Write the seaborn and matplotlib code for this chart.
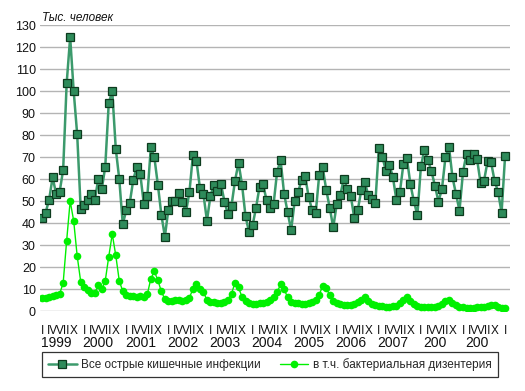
import numpy as np
import pandas as pd
import matplotlib
matplotlib.use("Agg")
import matplotlib.pyplot as plt
import seaborn as sns
from matplotlib.lines import Line2D
from matplotlib.transforms import blended_transform_factory

# monthly data, Jan 1999 .. Jan 2010 (thousand people)
all_infections = [
    # 1999
    42.4, 44.7, 50.6, 60.8, 53.2, 54.2, 64.1, 103.5, 124.4, 100.0, 80.3, 46.5,
    # 2000
    48.3, 50.3, 53.0, 50.3, 59.8, 55.3, 65.5, 94.5, 100.0, 73.8, 59.9, 39.4,
    # 2001
    45.9, 49.2, 59.7, 65.5, 62.1, 48.6, 52.1, 74.4, 69.9, 57.4, 43.8, 33.8,
    # 2002
    46.1, 50.0, 49.9, 53.5, 49.5, 44.9, 54.0, 70.9, 68.4, 55.8, 53.0, 41.0,
    # 2003
    52.4, 57.4, 54.5, 57.6, 49.7, 43.9, 47.9, 59.2, 67.4, 57.4, 43.0, 35.9,
    # 2004
    38.9, 47.0, 56.5, 57.6, 50.3, 47.0, 48.6, 63.3, 68.5, 53.2, 44.9, 36.7,
    # 2005
    49.8, 54.2, 59.5, 61.2, 51.8, 45.8, 44.4, 61.8, 65.3, 55.1, 47.0, 38.0,
    # 2006
    48.5, 52.6, 60.0, 55.6, 52.4, 42.3, 45.8, 55.0, 58.6, 52.6, 51.0, 49.0,
    # 2007
    73.9, 70.2, 63.8, 66.5, 61.0, 50.6, 53.9, 66.7, 69.5, 57.7, 49.8, 43.6,
    # 2008
    65.8, 73.2, 68.6, 63.5, 57.0, 49.7, 55.5, 69.9, 74.7, 60.8, 53.3, 45.6,
    # 2009
    63.2, 71.5, 68.6, 71.2, 69.1, 58.3, 59.2, 68.0, 67.6, 59.2, 54.2, 44.7,
    # 2010
    70.5,
]

dysentery = [
    # 1999
    6.1, 6.1, 6.3, 6.7, 7.3, 7.8, 12.7, 32.0, 50.0, 41.0, 25.0, 13.4,
    # 2000
    11.0, 9.5, 8.4, 8.1, 11.6, 9.8, 13.7, 24.7, 35.0, 25.3, 13.7, 9.0,
    # 2001
    7.5, 6.9, 6.6, 6.3, 6.9, 6.4, 7.6, 14.7, 18.0, 14.0, 8.9, 5.3,
    # 2002
    4.6, 4.7, 5.2, 4.9, 4.6, 4.9, 6.0, 10.1, 12.2, 10.2, 8.7, 4.9,
    # 2003
    4.1, 4.0, 3.8, 3.7, 4.0, 5.0, 7.9, 12.8, 10.7, 6.4, 4.4, 3.5,
    # 2004
    3.4, 3.4, 3.6, 3.8, 4.2, 5.0, 6.5, 8.5, 12.1, 9.9, 6.2, 4.0,
    # 2005
    3.8, 3.5, 3.4, 3.4, 3.6, 4.0, 5.0, 7.3, 11.5, 10.6, 7.1, 4.5,
    # 2006
    3.5, 3.0, 2.8, 2.7, 2.8, 3.2, 4.0, 5.0, 6.3, 4.5, 3.2, 2.6,
    # 2007
    2.4, 2.2, 2.0, 2.0, 2.1, 2.5, 3.5, 5.0, 6.2, 4.5, 3.0, 2.2,
    # 2008
    2.0, 1.9, 1.8, 1.8, 2.0, 2.5, 3.2, 4.5, 5.2, 3.8, 2.6, 2.0,
    # 2009
    1.6, 1.5, 1.5, 1.5, 1.6, 1.8, 2.0, 2.5, 2.8, 2.6, 2.0, 1.5,
    # 2010
    1.2,
]

month_labels = ["I", "", "", "IV", "", "", "VII", "", "", "X", "", ""]
year_labels = ["1999", "2000", "2001", "2002", "2003", "2004",
               "2005", "2006", "2007", "200", "200"]
series_names = ["Все острые кишечные инфекции", "в т.ч. бактериальная дизентерия"]
y_title = "Тыс. человек"

sns.set_style("white")
plt.rcParams["font.family"] = ["Liberation Sans", "DejaVu Sans"]

df = pd.DataFrame({
    "idx": np.arange(len(all_infections)),
    "all": all_infections,
    "dys": dysentery,
})

fig = plt.figure(figsize=(5.25, 3.91), dpi=100)
ax = fig.add_axes([40 / 525, 1 - 311 / 391, 470 / 525, 286 / 391])

dark_green = "#3c9a6c"
sq_face = "#2e8b5a"
sq_edge = "#0d3b1e"
lime = "#00f000"

sns.lineplot(data=df, x="idx", y="all", ax=ax, color=dark_green, lw=1.8,
             marker="s", markersize=5.5, markerfacecolor=sq_face,
             markeredgecolor=sq_edge, markeredgewidth=0.9, zorder=3)
sns.lineplot(data=df, x="idx", y="dys", ax=ax, color=lime, lw=1.0,
             marker="o", markersize=5.5, markerfacecolor=lime,
             markeredgecolor=lime, markeredgewidth=0, zorder=2)

ax.set_xlim(-0.6, len(all_infections) - 1 + 1.4)
ax.set_ylim(0, 130)
ax.set_yticks(range(0, 131, 10))
ax.yaxis.grid(True, color="#b4b4b4", lw=1)
ax.xaxis.grid(False)
for s in ax.spines.values():
    s.set_visible(False)
ax.set_xlabel("")
ax.set_ylabel("")
ax.tick_params(axis="y", length=0, pad=3, labelsize=9, labelcolor="#111111")

# month ticks every quarter (the labels crowd together, as in the original)
ticks = [i for i in range(len(all_infections)) if i % 3 == 0]
ax.set_xticks(ticks)
ax.set_xticklabels([month_labels[i % 12] for i in ticks])
ax.tick_params(axis="x", length=0, pad=10, labelsize=8.5, labelcolor="#111111")

trans = blended_transform_factory(ax.transData, ax.transAxes)
for k, yl in enumerate(year_labels):
    ax.text(k * 12 + 4, -0.112, yl, transform=trans, ha="center", va="center",
            fontsize=10, color="#111111")

ax.text(0.005, 1.025, y_title, transform=ax.transAxes, ha="left", va="center",
        fontsize=8.5, style="italic", color="#111111")

handles = [
    Line2D([], [], color=dark_green, lw=1.8, marker="s", markersize=5.5,
           markerfacecolor=sq_face, markeredgecolor=sq_edge, markeredgewidth=0.9),
    Line2D([], [], color=lime, lw=1.0, marker="o", markersize=5.5,
           markerfacecolor=lime, markeredgewidth=0),
]
leg = fig.legend(handles, series_names, loc="center", ncol=2,
                 bbox_to_anchor=(270 / 525, 1 - 364.5 / 391), frameon=True,
                 fancybox=False, edgecolor="black", fontsize=8.5,
                 handlelength=2.4, columnspacing=1.6, borderpad=0.5,
                 handletextpad=0.4)
leg.get_frame().set_linewidth(0.9)

fig.savefig("out.png", dpi=100)
